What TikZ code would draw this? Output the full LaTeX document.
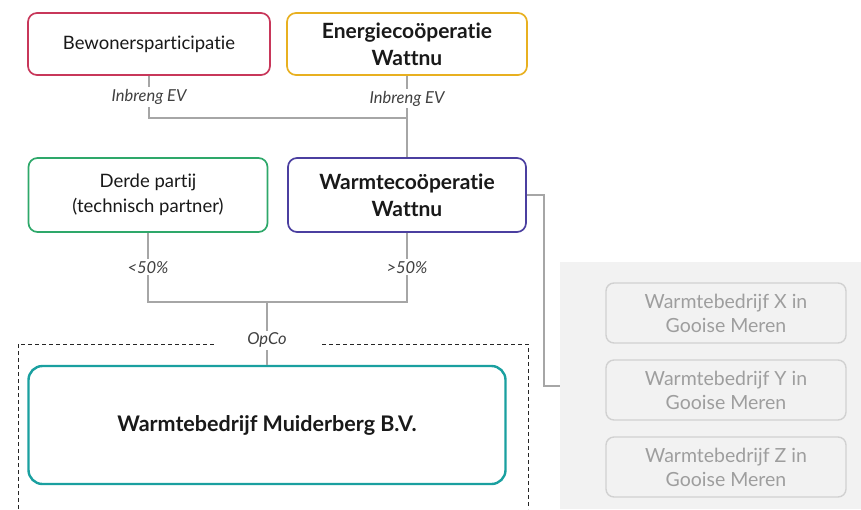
\documentclass[tikz,border=0pt]{standalone}
\usepackage{fontspec}
\setmainfont{Lato}[Ligatures=NoCommon]
\definecolor{bewrood}{HTML}{C8375A}
\definecolor{enegeel}{HTML}{E8B020}
\definecolor{derdegroen}{HTML}{2EA86A}
\definecolor{warmpaars}{HTML}{4B3FA0}
\definecolor{muidteal}{HTML}{1AA0A0}
\definecolor{lijngrijs}{HTML}{A6A6A6}
\tikzset{
	orgbox/.style={draw, rounded corners=9pt, line width=1.7pt, fill=white, align=center,
			inner sep=0pt, text=black!90, font=\fontsize{18.5}{25}\selectfont},
	boldbox/.style={orgbox, font=\fontsize{21}{27}\selectfont\bfseries},
	link/.style={draw=lijngrijs, line width=2pt},
	lbl/.style={fill=white, inner sep=2pt, text=black!75, font=\fontsize{16.5}{18}\selectfont\itshape},
	sidebox/.style={draw=black!18, rounded corners=8pt, line width=1.4pt, fill=black!5,
			align=center, inner sep=0pt, text=black!38, minimum width=240pt, minimum height=60pt,
			font=\fontsize{19.5}{24}\selectfont}
}
\begin{document}
\begin{tikzpicture}[x=1pt,y=-1pt]
		\useasboundingbox (0,0) rectangle (861,509);
		% grijze achtergrond rechts
		\node[fill=black!5, minimum width=301pt, minimum height=247pt, inner sep=0pt] (grp) at (710.5,385.5) {};
		% dochters (grijs)
		\node[sidebox] (wbx) at (726,313) {Warmtebedrijf X in\\Gooise Meren};
		\node[sidebox] (wby) at (726,390) {Warmtebedrijf Y in\\Gooise Meren};
		\node[sidebox] (wbz) at (726,467) {Warmtebedrijf Z in\\Gooise Meren};
		% bovenste rij
		\node[orgbox, draw=bewrood, minimum width=242pt, minimum height=62pt] (bew) at (149,44) {Bewonersparticipatie};
		\node[boldbox, draw=enegeel, minimum width=240pt, minimum height=62pt] (ene) at (407,44) {Energiecoöperatie\\Wattnu};
		% middelste rij
		\node[orgbox, draw=derdegroen, minimum width=239pt, minimum height=74pt] (derde) at (148,195) {Derde partij\\(technisch partner)};
		\node[boldbox, draw=warmpaars, minimum width=238pt, minimum height=74pt] (warm) at (407,195) {Warmtecoöperatie\\Wattnu};
		% OpCo
		\draw[black!85, line width=1pt, dash pattern=on 4pt off 3pt] (18,509) -- (18,344) -- (528,344) -- (528,509);
		\node[boldbox, draw=muidteal, line width=2.4pt, rounded corners=14pt, minimum width=477pt, minimum height=118pt, font=\fontsize{21.5}{26}\selectfont\bfseries] (muid) at (267,425) {Warmtebedrijf Muiderberg B.V.};
		% verbindingen
		\coordinate (ev) at (407,118);
		\coordinate (opco) at (267,302);
		\draw[link] (bew.south) |- node[lbl, pos=.25] {Inbreng EV} (ev);
		\draw[link] (ene.south) -- node[lbl, pos=.28] {Inbreng EV} (warm.north);
		\draw[link] (derde.south) |- node[lbl, pos=.25] {<50\%} (opco);
		\draw[link] (warm.south) |- node[lbl, pos=.25] {>50\%} (opco);
		\draw[link] (opco) -- node[lbl, pos=.61, minimum width=105pt] {OpCo} (muid.north);
		\draw[link] (warm.east) -- ++(17,0) |- (grp.west);
	\end{tikzpicture}
\end{document}
